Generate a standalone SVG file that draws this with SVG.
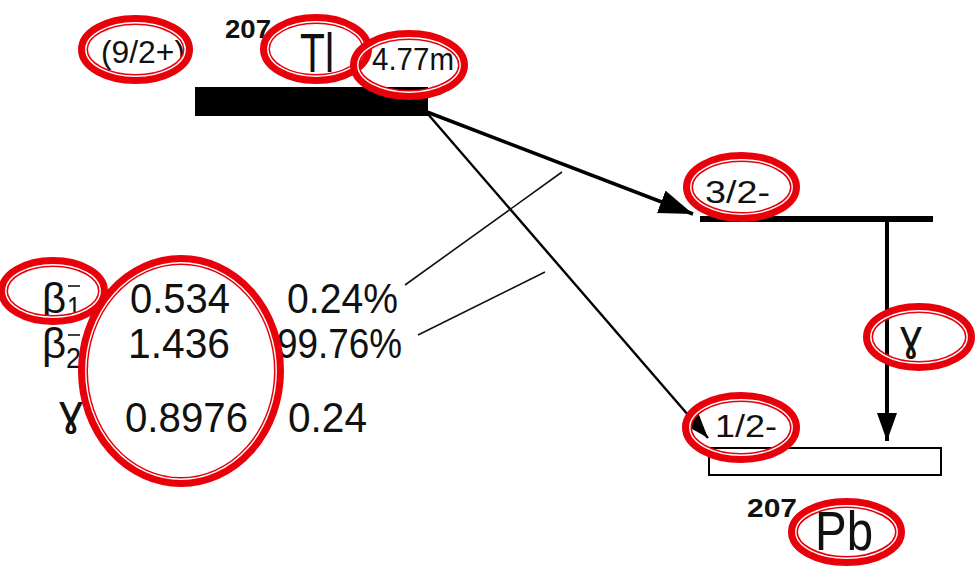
<svg xmlns="http://www.w3.org/2000/svg" width="977" height="566" viewBox="0 0 977 566">
  <style>
    text { font-family: "Liberation Sans", Arial, sans-serif; fill: #111; }
    .mass { font-weight: bold; font-size: 26px; }
    .sym { font-size: 56px; }
    .lvl { font-size: 31px; }
    .tab { font-size: 42px; }
    .sub { font-size: 30px; }
    .bar { stroke: #111; stroke-width: 1.6; }
    .lead { stroke: #111; stroke-width: 1.6; fill: none; }
    .ring-o { fill: none; stroke: #e8000b; stroke-width: 10; }
    .ring-w { fill: none; stroke: #fff; stroke-width: 1.4; }
  </style>
  <defs>
    <marker id="headBig" markerUnits="userSpaceOnUse" markerWidth="36" markerHeight="26" refX="34" refY="12" orient="auto">
      <path d="M0,0 L34,12 L0,24 Z" fill="#000"/>
    </marker>
    <marker id="headThin" markerUnits="userSpaceOnUse" markerWidth="30" markerHeight="22" refX="28" refY="10" orient="auto">
      <path d="M0,0 L28,10 L0,20 Z" fill="#000"/>
    </marker>
  </defs>
  <rect width="977" height="566" fill="#fff"/>

  <!-- parent level: 207Tl -->
  <g id="level-tl">
    <rect x="195" y="87" width="233" height="29" fill="#000"/>
    <text class="mass" x="225" y="38" textLength="46" lengthAdjust="spacingAndGlyphs">207</text>
    <text class="sym" x="300" y="72" textLength="34" lengthAdjust="spacingAndGlyphs">Tl</text>
    <text class="lvl" x="101" y="63" textLength="84" lengthAdjust="spacingAndGlyphs">(9/2+)</text>
    <text class="lvl" x="372" y="70" textLength="82" lengthAdjust="spacingAndGlyphs">4.77m</text>
  </g>

  <!-- excited level 3/2- -->
  <g id="level-32">
    <line x1="700" y1="219" x2="933" y2="219" stroke="#000" stroke-width="6"/>
    <text class="lvl" x="705" y="203" textLength="65" lengthAdjust="spacingAndGlyphs">3/2-</text>
  </g>

  <!-- ground level: 207Pb -->
  <g id="level-pb">
    <rect x="709" y="448" width="232" height="27" fill="#fff" stroke="#000" stroke-width="2"/>
    <text class="lvl" x="715" y="437" textLength="62" lengthAdjust="spacingAndGlyphs">1/2-</text>
    <text class="mass" x="747" y="517" textLength="50" lengthAdjust="spacingAndGlyphs">207</text>
    <text class="sym" x="815" y="550" textLength="58" lengthAdjust="spacingAndGlyphs">Pb</text>
  </g>

  <!-- transitions -->
  <g id="connectors">
    <line x1="427" y1="112" x2="693" y2="214" stroke="#000" stroke-width="3.5" marker-end="url(#headBig)"/>
    <line x1="427" y1="113" x2="708" y2="438" stroke="#000" stroke-width="2.4" marker-end="url(#headThin)"/>
    <line x1="887" y1="219" x2="887" y2="441" stroke="#000" stroke-width="4" marker-end="url(#headThin)"/>
    <line class="lead" x1="405" y1="285" x2="562" y2="172"/>
    <line class="lead" x1="418" y1="335" x2="545" y2="272"/>
  </g>

  <!-- gamma label -->
  <g id="gamma-label">
    <text class="tab" x="900" y="350" font-size="36" textLength="22" lengthAdjust="spacingAndGlyphs">ɣ</text>
  </g>

  <!-- energy / intensity table -->
  <g id="table">
    <text class="tab" x="42" y="313">β</text>
    <line class="bar" x1="68" y1="286" x2="80" y2="286"/>
    <text class="sub" x="67" y="317" textLength="14" lengthAdjust="spacingAndGlyphs">1</text>
    <text class="tab" x="130" y="313" textLength="100" lengthAdjust="spacingAndGlyphs">0.534</text>
    <text class="tab" x="287" y="313" textLength="111" lengthAdjust="spacingAndGlyphs">0.24%</text>

    <text class="tab" x="42" y="358">β</text>
    <line class="bar" x1="68" y1="335" x2="80" y2="335"/>
    <text class="sub" x="66" y="368" textLength="15" lengthAdjust="spacingAndGlyphs">2</text>
    <text class="tab" x="128" y="358" textLength="102" lengthAdjust="spacingAndGlyphs">1.436</text>
    <text class="tab" x="277" y="358" textLength="125" lengthAdjust="spacingAndGlyphs">99.76%</text>

    <text class="tab" x="59" y="425" textLength="24" lengthAdjust="spacingAndGlyphs">ɣ</text>
    <text class="tab" x="125" y="432" textLength="123" lengthAdjust="spacingAndGlyphs">0.8976</text>
    <text class="tab" x="288" y="432" textLength="79" lengthAdjust="spacingAndGlyphs">0.24</text>
  </g>

  <!-- red highlight rings -->
  <g id="highlights">
    <g><ellipse class="ring-o" cx="135.5" cy="49.5" rx="52.5" ry="29.5"/><ellipse class="ring-w" cx="135.5" cy="49.5" rx="49.7" ry="26.7"/></g>
    <g><ellipse class="ring-o" cx="316" cy="49" rx="51" ry="30"/><ellipse class="ring-w" cx="316" cy="49" rx="48.2" ry="27.2"/></g>
    <g><ellipse class="ring-o" cx="409" cy="65" rx="54" ry="30"/><ellipse class="ring-w" cx="409" cy="65" rx="51.2" ry="27.2"/></g>
    <g><ellipse class="ring-o" cx="741.5" cy="187" rx="53.5" ry="30"/><ellipse class="ring-w" cx="741.5" cy="187" rx="50.7" ry="27.2"/></g>
    <g><ellipse class="ring-o" cx="53" cy="291" rx="50" ry="29"/><ellipse class="ring-w" cx="53" cy="291" rx="47.2" ry="26.2"/></g>
    <g><ellipse class="ring-o" cx="181" cy="371" rx="98" ry="111"/><ellipse class="ring-w" cx="181" cy="371" rx="95.2" ry="108.2"/></g>
    <g><ellipse class="ring-o" cx="919" cy="337" rx="51" ry="29"/><ellipse class="ring-w" cx="919" cy="337" rx="48.2" ry="26.2"/></g>
    <g><ellipse class="ring-o" cx="741" cy="427.5" rx="54" ry="30.5"/><ellipse class="ring-w" cx="741" cy="427.5" rx="51.2" ry="27.7"/></g>
    <g><ellipse class="ring-o" cx="846.5" cy="532" rx="53.5" ry="29"/><ellipse class="ring-w" cx="846.5" cy="532" rx="50.7" ry="26.2"/></g>
  </g>
</svg>
